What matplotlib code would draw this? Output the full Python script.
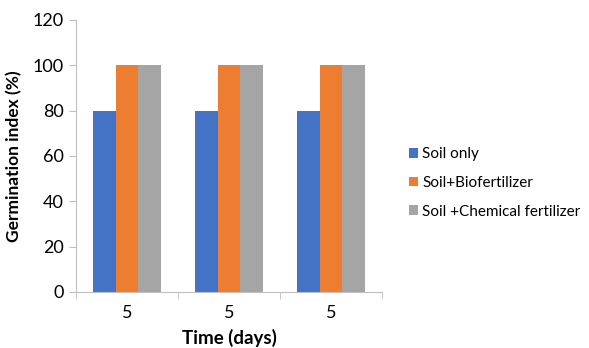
import matplotlib
matplotlib.use('Agg')
from matplotlib import pyplot as plt
import numpy as np

categories = ['5', '5', '5']
series_names = ['Soil only', 'Soil+Biofertilizer', 'Soil +Chemical fertilizer']
soil_only = [80, 80, 80]
soil_bio = [100, 100, 100]
soil_chem = [100, 100, 100]
colors = ['#4472c4', '#ed7d31', '#a5a5a5']

plt.rcParams['font.family'] = ['Lato', 'DejaVu Sans']

fig = plt.figure(figsize=(5.89, 3.48), dpi=100)
ax = fig.add_axes([76 / 589, 1 - 292 / 348, (382 - 76) / 589, (292 - 20) / 348])

x = np.arange(len(categories))
w = 0.225
for i, (vals, name) in enumerate(zip([soil_only, soil_bio, soil_chem], series_names)):
    ax.bar(x + (i - 1) * w, vals, width=w, color=colors[i], label=name, zorder=2)

ax.set_xlim(-0.5, len(categories) - 0.5)
ax.set_ylim(0, 120)
ax.set_yticks(range(0, 121, 20))
ax.set_xticks(x)
ax.set_xticklabels(categories)
ax.set_xticks(np.arange(-0.5, len(categories)), minor=True)
ax.tick_params(axis='x', which='major', length=0, pad=9, labelsize=13)
ax.tick_params(axis='x', which='minor', length=5, color='#bfbfbf')
ax.tick_params(axis='y', length=5, color='#bfbfbf', labelsize=13, pad=4)

for s in ['top', 'right']:
    ax.spines[s].set_visible(False)
for s in ['left', 'bottom']:
    ax.spines[s].set_color('#bfbfbf')

ax.set_ylabel('Germination index (%)', fontsize=12.5, fontweight='bold', labelpad=7)
ax.set_xlabel('Time (days)', fontsize=13.5, fontweight='bold', labelpad=6)

fig.legend(loc='center left', bbox_to_anchor=(404 / 589, 1 - 183 / 348), frameon=False,
           fontsize=11, handlelength=0.6, handleheight=0.6, handletextpad=0.3,
           labelspacing=0.95, borderaxespad=0, borderpad=0.3)

fig.savefig('out.png', dpi=100)
